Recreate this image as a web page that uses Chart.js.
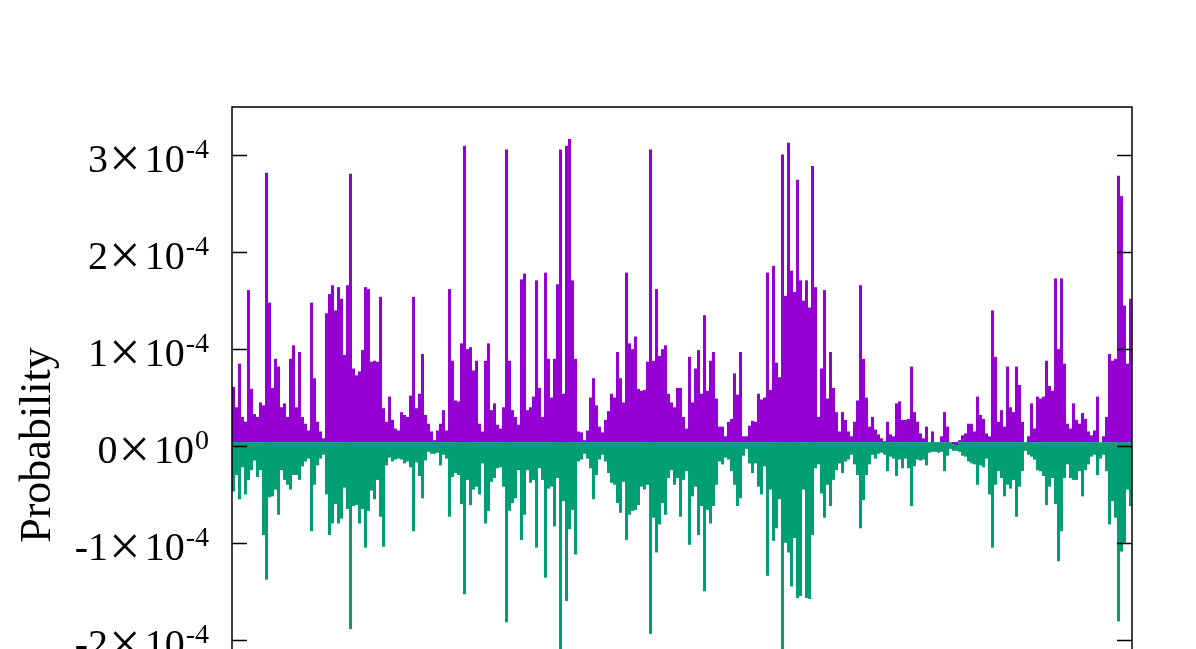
<!DOCTYPE html>
<html>
<head>
<meta charset="utf-8">
<title>Probability</title>
<script src="https://cdn.jsdelivr.net/npm/chart.js@4.4.1/dist/chart.umd.min.js"></script>
<style>
  html, body { margin: 0; padding: 0; background: #fff; overflow: hidden; }
  #wrap { width: 1196px; height: 649px; overflow: hidden; }
</style>
</head>
<body>
<div id="wrap"><canvas id="probChart" width="1196" height="840"></canvas></div>
<script>
// values in units of 1e-6, one per bin
const upperE6 = [
  61, 40, 85, 30, 25, 161, 59, 33, 30, 45,
  42, 282, 148, 60, 90, 82, 40, 44, 30, 90,
  104, 40, 97, 30, 23, 16, 148, 70, 25, 15,
  8, 137, 157, 166, 140, 164, 152, 94, 166, 281,
  80, 73, 77, 99, 164, 162, 87, 88, 87, 154,
  39, 25, 51, 27, 18, 16, 35, 32, 30, 52,
  154, 39, 54, 95, 32, 23, 15, 6, 16, 23,
  37, 16, 162, 88, 47,
  46, 106, 310, 100, 102, 78, 88, 23, 15, 88,
  106, 37, 44, 22, 18, 40, 306, 88, 37, 30,
  22, 172, 178, 37, 40, 51, 171, 60, 30, 179,
  90, 50, 90, 167, 306, 54, 310, 317, 171, 90,
  15, 14, 6, 16, 50, 70, 42, 20, 14, 27,
  36, 54, 50, 97, 70, 45, 179, 106, 100, 113,
  59, 57, 58, 87, 306, 88, 162, 93, 100, 104,
  54, 45, 40, 60, 60,
  30, 18, 92, 45, 80, 99, 54, 135, 57, 88,
  97, 49, 20, 20, 10, 25, 28, 75, 53, 97,
  10, 10, 21, 26, 25, 54, 48, 50, 179, 58,
  186, 86, 71, 301, 155, 313, 181, 159, 275, 171,
  150, 171, 143, 289, 164, 30, 80, 161, 49, 97,
  60, 35, 15, 35, 27, 15, 10, 25, 47, 166,
  90, 50, 20, 30, 17, 12, 8, 5, 25, 12,
  10, 44, 46, 27, 27,
  28, 82, 35, 25, 13, 8, 20, 4, 15, 4,
  4, 10, 35, 20, 4, 2, 1, 6, 11, 13,
  23, 23, 15, 51, 32, 28, 13, 10, 140, 92,
  25, 37, 20, 82, 40, 35, 82, 63, 25, 4,
  10, 44, 18, 51, 49, 51, 88, 62, 57, 173,
  100, 173, 85, 23, 18, 44, 27, 23, 34, 28,
  15, 11, 16, 51, 4, 10, 30, 95, 88, 90,
  279, 258, 145, 85, 152
];

const lowerE6 = [
  47, 30, 55, 22, 50, 35, 25, 15, 32, 25,
  92, 138, 53, 52, 45, 71, 25, 35, 40, 45,
  30, 30, 35, 21, 16, 13, 88, 40, 20, 13,
  9, 50, 92, 80, 60, 80, 75, 43, 65, 189,
  62, 61, 80, 65, 105, 67, 46, 55, 35, 73,
  104, 20, 12, 16, 14, 13, 14, 18, 16, 22,
  88, 17, 31, 54, 15, 6, 8, 8, 7, 20,
  9, 13, 73, 32, 28,
  30, 60, 153, 35, 61, 45, 42, 50, 18, 80,
  67, 37, 33, 23, 22, 42, 182, 67, 59, 54,
  25, 97, 71, 25, 38, 35, 105, 23, 35, 136,
  44, 42, 83, 33, 215, 57, 160, 86, 66, 112,
  16, 14, 8, 13, 23, 55, 30, 14, 9, 16,
  28, 38, 40, 59, 69, 37, 97, 71, 67, 66,
  61, 42, 45, 40, 194, 74, 110, 81, 59, 71,
  33, 25, 40, 33, 73,
  35, 26, 102, 52, 42, 92, 62, 150, 66, 80,
  62, 40, 16, 19, 12, 14, 26, 40, 62, 54,
  10, 3, 18, 28, 18, 42, 50, 21, 134, 45,
  98, 85, 55, 215, 100, 110, 145, 95, 157, 155,
  45, 157, 158, 92, 23, 19, 49, 74, 40, 62,
  35, 25, 18, 28, 16, 14, 9, 19, 30, 85,
  56, 30, 19, 9, 13, 8, 7, 9, 26, 11,
  13, 31, 14, 23, 13,
  23, 62, 21, 14, 15, 14, 20, 7, 6, 6,
  7, 6, 26, 10, 3, 5, 5, 6, 10, 11,
  16, 18, 19, 40, 20, 22, 13, 50, 105, 40,
  26, 33, 52, 40, 44, 35, 73, 42, 26, 5,
  9, 11, 14, 25, 26, 31, 61, 42, 33, 60,
  119, 88, 33, 19, 33, 35, 35, 26, 52, 25,
  19, 11, 9, 30, 13, 9, 26, 81, 57, 74,
  181, 109, 100, 45, 62
];

const yTickValues = [-3e-4, -2e-4, -1e-4, 0, 1e-4, 2e-4, 3e-4];
const yTickMantissa = ['-3', '-2', '-1', '0', '1', '2', '3'];
const yTickExponent = ['-4', '-4', '-4', '0', '-4', '-4', '-4'];

const bins = upperE6.map((_, i) => i + 1);

const serif = '"Liberation Serif", "Times New Roman", serif';

const frameAndLabels = {
  id: 'frameAndLabels',
  afterDatasetsDraw(chart) {
    const { ctx, chartArea: a, scales: { y } } = chart;
    ctx.save();
    ctx.strokeStyle = '#000';
    ctx.fillStyle = '#000';
    ctx.lineWidth = 1.5;
    ctx.strokeRect(a.left, a.top, a.right - a.left, a.bottom - a.top);

    y.ticks.forEach((t, i) => {
      const py = Math.round(y.getPixelForValue(t.value)) + 0.5;
      ctx.beginPath();
      ctx.moveTo(a.left, py);
      ctx.lineTo(a.left + 15, py);
      ctx.moveTo(a.right, py);
      ctx.lineTo(a.right - 15, py);
      ctx.stroke();

      // mantissa x 10^exponent, built right to left
      ctx.textAlign = 'right';
      ctx.textBaseline = 'alphabetic';
      ctx.font = '28px ' + serif;
      ctx.fillText(yTickExponent[i], 209, py + 2);
      let xr = 209 - ctx.measureText(yTickExponent[i]).width - 1;
      ctx.font = '40px ' + serif;
      ctx.fillText('10', xr, py + 16);
      xr -= ctx.measureText('10').width + 4;
      ctx.font = '56px ' + serif;
      ctx.fillText('\u00d7', xr, py + 21);
      xr -= ctx.measureText('\u00d7').width + 1;
      ctx.font = '40px ' + serif;
      ctx.fillText(yTickMantissa[i], xr, py + 16);
    });

    ctx.translate(50, 445);
    ctx.rotate(-Math.PI / 2);
    ctx.textAlign = 'center';
    ctx.font = '44px ' + serif;
    ctx.fillText('Probability', 0, 0);
    ctx.restore();
  }
};

const ctx = document.getElementById('probChart').getContext('2d');
const chart = new Chart(ctx, {
  type: 'bar',
  data: {
    labels: bins,
    datasets: [{
      label: 'upper',
      data: upperE6.map(v => v * 1e-6),
      backgroundColor: '#9400d3',
      borderWidth: 0,
      base: 4e-6,
      grouped: false,
      inflateAmount: 0,
      barPercentage: 1,
      categoryPercentage: 1
    }, {
      label: 'lower',
      data: lowerE6.map(v => -v * 1e-6),
      backgroundColor: '#009e73',
      borderWidth: 0,
      base: 4e-6,
      grouped: false,
      inflateAmount: 0,
      barPercentage: 1,
      categoryPercentage: 1
    }]
  },
  options: {
    responsive: false,
    animation: false,
    devicePixelRatio: 1,
    layout: { padding: { left: 232, top: 107, right: 64, bottom: 55 } },
    plugins: { legend: { display: false }, tooltip: { enabled: false } },
    scales: {
      x: { display: false },
      y: {
        display: false,
        min: -3.5e-4,
        max: 3.5e-4,
        afterBuildTicks: s => { s.ticks = yTickValues.map(v => ({ value: v })); }
      }
    }
  },
  plugins: [frameAndLabels]
});
</script>
</body>
</html>
